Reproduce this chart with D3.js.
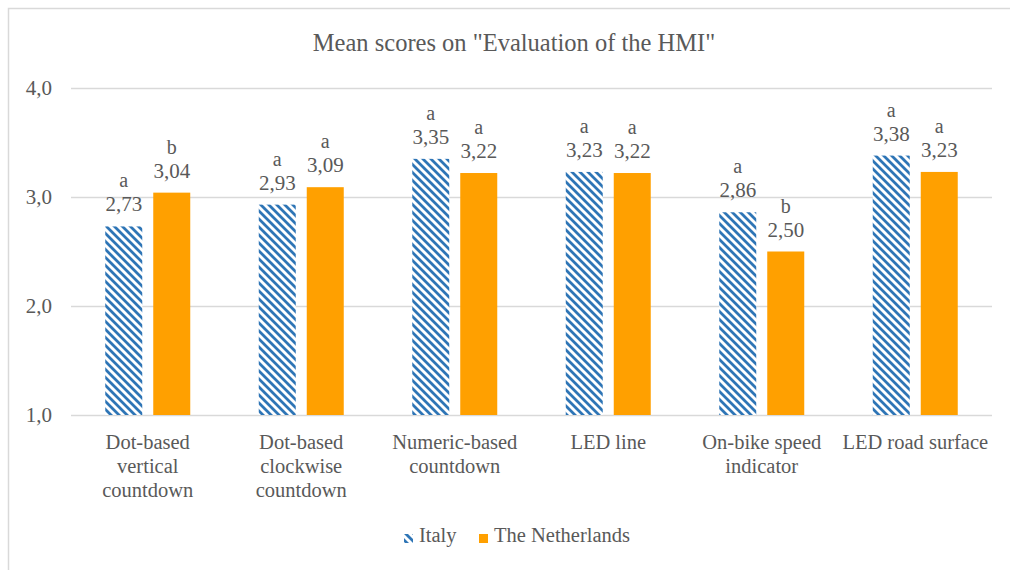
<!DOCTYPE html>
<html>
<head>
<meta charset="utf-8">
<script src="https://cdn.jsdelivr.net/npm/d3@7"></script>
<style>
  body { margin: 0; background: #fff; overflow: hidden; }
</style>
</head>
<body>
<div id="chart"></div>
<script>
const categories = [
    ['Dot-based', 'vertical', 'countdown'],
    ['Dot-based', 'clockwise', 'countdown'],
    ['Numeric-based', 'countdown'],
    ['LED line'],
    ['On-bike speed', 'indicator'],
    ['LED road surface']
];
const seriesNames = ['Italy', 'The Netherlands'];
const italyValues = [2.73, 2.93, 3.35, 3.23, 2.86, 3.38];
const netherlandsValues = [3.04, 3.09, 3.22, 3.22, 2.50, 3.23];
const italyLetters = ['a', 'a', 'a', 'a', 'a', 'a'];
const netherlandsLetters = ['b', 'a', 'a', 'a', 'b', 'a'];
const yTicks = [1, 2, 3, 4];

const W = 1010, H = 570;
const plot = { left: 71, right: 992, top: 88, bottom: 415 };
const orange = '#ffa000';
const blue = '#2e75b6';
const grey = '#595959';
const serif = '"Liberation Serif", serif';

const svg = d3.select('#chart').append('svg')
    .attr('width', W)
    .attr('height', H);

function label(parent, px, py, size, str, anchor) {
    const t = parent.append('text')
        .attr('x', px)
        .attr('y', py)
        .attr('text-anchor', anchor || 'middle')
        .attr('fill', grey)
        .style('font-family', serif)
        .style('font-size', `${size}px`);
    if (str !== null) t.text(str);
    return t;
}

// hatch for Italy
const defs = svg.append('defs');
const pat = defs.append('pattern')
    .attr('id', 'hatch')
    .attr('patternUnits', 'userSpaceOnUse')
    .attr('width', 8)
    .attr('height', 8);
pat.append('rect').attr('width', 8).attr('height', 8).attr('fill', '#fff');
pat.append('path')
    .attr('d', 'M-2,-2 L10,10 M-2,6 L2,10 M6,-2 L10,2')
    .attr('stroke', blue)
    .attr('stroke-width', 2.8);

// outer border, only top and left show in the original
svg.append('path')
    .attr('d', `M8.5,${H} V8.5 H${W}`)
    .attr('fill', 'none')
    .attr('stroke', '#d9d9d9')
    .attr('stroke-width', 1.5);

label(svg, 514, 51, 24.5, 'Mean scores on "Evaluation of the HMI"');

const x = d3.scaleBand()
    .domain(d3.range(categories.length))
    .range([plot.left, plot.right]);

const y = d3.scaleLinear()
    .domain([1, 4])
    .range([plot.bottom, plot.top]);

const fmt = v => d3.format('.1f')(v).replace('.', ',');
const fmt2 = v => d3.format('.2f')(v).replace('.', ',');

// gridlines + y labels
const yAxis = d3.axisLeft(y)
    .tickValues(yTicks)
    .tickSize(-(plot.right - plot.left))
    .tickPadding(19)
    .tickFormat(fmt);

const yg = svg.append('g')
    .attr('transform', `translate(${plot.left},0)`)
    .call(yAxis);
yg.select('.domain').remove();
yg.selectAll('.tick line').attr('stroke', '#d9d9d9').attr('stroke-width', 1.5);
yg.selectAll('.tick text')
    .attr('fill', grey)
    .style('font-family', serif)
    .style('font-size', '21px');

// bars
const barW = 37, gap = 11;
const series = [
    { vals: italyValues, letters: italyLetters, fill: 'url(#hatch)', dx: -gap / 2 - barW },
    { vals: netherlandsValues, letters: netherlandsLetters, fill: orange, dx: gap / 2 }
];

const barLayer = svg.append('g');
const labelLayer = svg.append('g');

categories.forEach((cat, i) => {
    const cx = x(i) + x.bandwidth() / 2;
    series.forEach(s => {
        const v = s.vals[i];
        barLayer.append('rect')
            .attr('x', cx + s.dx)
            .attr('y', y(v))
            .attr('width', barW)
            .attr('height', y(1) - y(v))
            .attr('fill', s.fill);
        label(labelLayer, cx + s.dx + barW / 2, y(v) - 15, 21, fmt2(v));
        label(labelLayer, cx + s.dx + barW / 2, y(v) - 39, 20, s.letters[i]);
    });

    // category label lines
    const t = label(labelLayer, cx, 0, 20.5, null);
    t.selectAll('tspan')
        .data(cat)
        .join('tspan')
        .attr('x', cx)
        .attr('y', (d, j) => 449 + j * 24)
        .text(d => d);
});

// legend
const legendItems = [
    { name: seriesNames[0], fill: 'url(#hatch)', x: 404 },
    { name: seriesNames[1], fill: orange, x: 479 }
];
legendItems.forEach(l => {
    svg.append('rect')
        .attr('x', l.x).attr('y', 534)
        .attr('width', 9).attr('height', 9)
        .attr('fill', l.fill);
    label(svg, l.x + 15, 542, 20.5, l.name, 'start');
});
</script>
</body>
</html>
